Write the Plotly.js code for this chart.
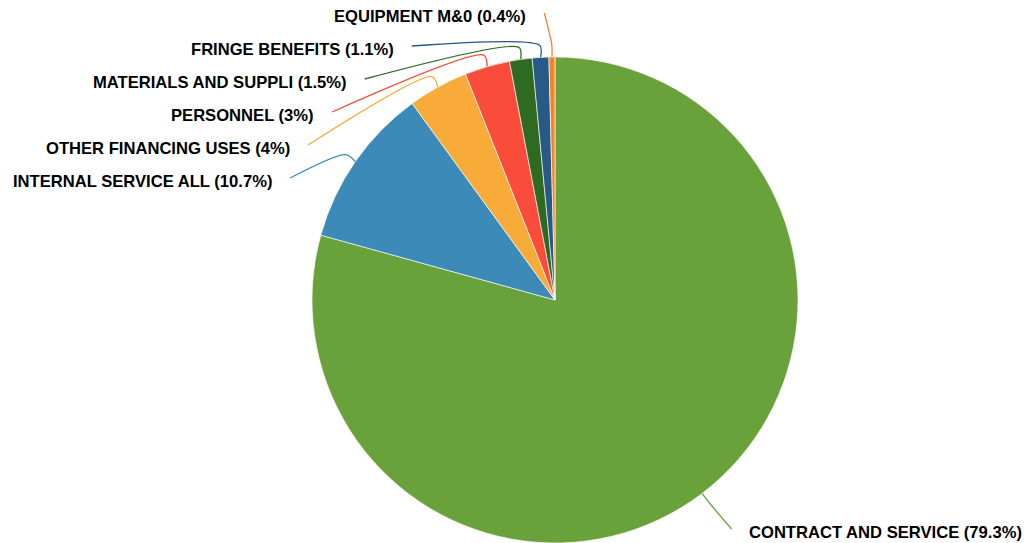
<!DOCTYPE html>
<html>
<head>
<meta charset="utf-8">
<script src="https://cdn.plot.ly/plotly-3.0.1.min.js"></script>
<style>html,body{margin:0;padding:0;background:#fff;}#chart{width:1026px;height:543px;}</style>
</head>
<body>
<div id="chart"></div>
<script>
const categories = ['CONTRACT AND SERVICE','INTERNAL SERVICE ALL','OTHER FINANCING USES','PERSONNEL','MATERIALS AND SUPPLI','FRINGE BENEFITS','EQUIPMENT M&0'];
const percents = [79.3, 10.7, 4, 3, 1.5, 1.1, 0.4];
const colors = ['#69a13a','#3b8ab7','#f8ab38','#f94c3b','#2e6a20','#285a87','#f58426'];

const W = 1026, H = 543;
const cx = 555, cy = 300, r = 243;
const R2 = 1.2 * r, stub = 12, gap = 33, minY = 13;

const total = percents.reduce((a, b) => a + b, 0);
let cum = 0;
const items = percents.map((v, i) => {
  const mid = (cum + v / 2) / total; cum += v;
  const a = 2 * Math.PI * mid;
  const s = Math.sin(a), c = Math.cos(a);
  return {i, s, c,
    rim: [cx + r * s, cy - r * c],
    p1: [cx + (r + stub) * s, cy - (r + stub) * c],
    nat: [cx + R2 * s, cy - R2 * c],
    left: s < 0};
});

// place labels on each side
['left','right'].forEach(side => {
  const group = items.filter(d => (side === 'left') === d.left).sort((a, b) => a.nat[1] - b.nat[1]);
  let prev = -Infinity;
  group.forEach(d => {
    let y = Math.max(d.nat[1], minY), x = d.nat[0];
    if (y > d.nat[1]) x -= 7;
    if (prev + gap > y) {
      y = prev + gap;
      const dy = y - cy;
      const dx = Math.sqrt(Math.max(R2 * R2 - dy * dy, 0));
      x = d.left ? cx - dx : cx + dx;
    }
    d.end = [x, Math.min(y, H - 14)];
    prev = y;
  });
});

const esc = t => t.replace(/&/g, '&amp;');

const traces = [{
  type: 'pie',
  labels: categories,
  values: percents,
  sort: false,
  direction: 'clockwise',
  rotation: 0,
  textinfo: 'none',
  hoverinfo: 'label+percent',
  marker: {colors: colors, line: {color: 'rgba(255,255,255,0.8)', width: 0.8}},
  domain: {x: [(cx - r) / W, (cx + r) / W], y: [(H - cy - r) / H, (H - cy + r) / H]},
  showlegend: false
}];

items.forEach(d => {
  traces.push({
    type: 'scatter', mode: 'lines', xaxis: 'x', yaxis: 'y',
    x: [d.rim[0], d.p1[0], d.end[0]],
    y: [d.rim[1], d.p1[1], d.end[1]],
    line: {color: colors[d.i], width: 1.3, shape: 'spline', smoothing: 0.8},
    hoverinfo: 'skip', showlegend: false
  });
});

const annotations = items.map(d => ({
  xref: 'x', yref: 'y',
  x: d.left ? d.end[0] - 16 : d.end[0] + 15,
  y: d.end[1] + 3.5,
  xanchor: d.left ? 'right' : 'left',
  yanchor: 'middle',
  showarrow: false,
  text: esc(categories[d.i]) + ' (' + percents[d.i] + '%)',
  font: {family: 'Liberation Sans, Arial, Helvetica, sans-serif', size: 16.6, color: '#000', weight: 'bold'}
}));

const layout = {
  width: W, height: H,
  margin: {l: 0, r: 0, t: 0, b: 0},
  paper_bgcolor: '#fff', plot_bgcolor: 'rgba(0,0,0,0)',
  xaxis: {range: [0, W], visible: false, fixedrange: true},
  yaxis: {range: [H, 0], visible: false, fixedrange: true},
  annotations: annotations,
  showlegend: false
};

Plotly.newPlot('chart', traces, layout, {displayModeBar: false, staticPlot: true});
</script>
</body>
</html>
